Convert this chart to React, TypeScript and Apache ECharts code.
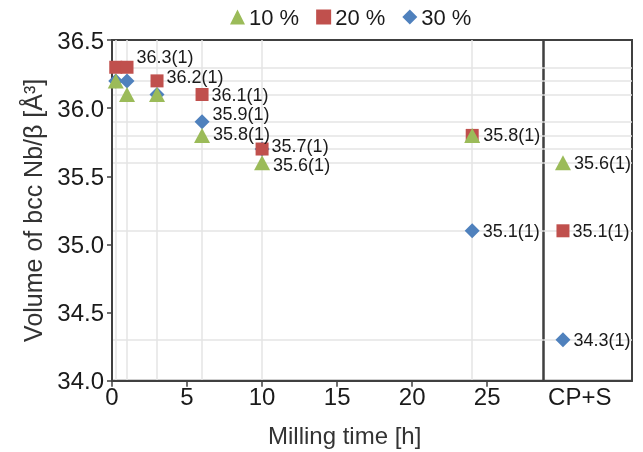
import React, { useEffect, useRef } from "react";
import * as echarts from "echarts";

const seriesNames = ["10 %", "20 %", "30 %"];
const times = [0.25, 1, 3, 6, 10, 24];
const vol10 = [36.2, 36.1, 36.1, 35.8, 35.6, 35.8];
const vol20 = [36.3, 36.3, 36.2, 36.1, 35.7, 35.8];
const vol30 = [36.2, 36.2, 36.1, 35.9, 35.7, 35.1];
const cpsCategory = "CP+S";
const cps10 = 35.6;
const cps20 = 35.1;
const cps30 = 34.3;
const labels10 = [null, null, null, "35.8(1)", "35.6(1)", "35.8(1)"];
const labels20 = [null, "36.3(1)", "36.2(1)", "36.1(1)", "35.7(1)", null];
const labels30 = [null, null, null, "35.9(1)", null, "35.1(1)"];
const cpsLabel10 = "35.6(1)";
const cpsLabel20 = "35.1(1)";
const cpsLabel30 = "34.3(1)";
const xTicks = [0, 5, 10, 15, 20, 25];
const yMin = 34.0;
const yMax = 36.5;
const yStep = 0.5;

const FONT = "'Liberation Sans', Arial, sans-serif";
const TXT = "#1a1a1a";
const AX = "#404040";
const GRIDC = "#e4e4e4";

// label vertical nudges (style only)
const labelOffsets: Record<string, number[]> = {
  "20-1": [0, -10],
  "20-2": [0, -4],
  "30-3": [0, -8],
  "10-3": [0, -1],
  "20-4": [0, -3],
  "10-4": [0, 2],
};

export default function App() {
  const ref = useRef<HTMLDivElement>(null);
  useEffect(() => {
    document.body.style.margin = "0";
    const chart = echarts.init(ref.current!, null, { renderer: "svg" });

    const mk = (key: string, vals: number[], labs: (string | null)[]) =>
      times.map((t, i) => {
        const item: any = { value: [t, vals[i]] };
        if (labs[i]) {
          item.label = {
            show: true,
            formatter: labs[i],
            position: "right",
            distance: 3,
            offset: labelOffsets[`${key}-${i}`] || [0, 0],
          };
        }
        return item;
      });

    const cpsX = 0.22;
    const mkCps = (v: number, lab: string) => [
      { value: [cpsX, v], label: { show: true, formatter: lab, position: "right", distance: 3 } },
    ];

    const hLines = Array.from(
      new Set([...vol10, ...vol20, ...vol30, cps10, cps20, cps30])
    ).map((v) => ({ yAxis: v }));
    const vLines = times.map((t) => ({ xAxis: t }));

    const markStyle = {
      silent: true,
      z: 0,
      symbol: ["none", "none"],
      label: { show: false },
      lineStyle: { color: GRIDC, width: 1.5, type: "solid", opacity: 1 },
      emphasis: { disabled: true },
      animation: false,
    };

    const labelStyle = { fontSize: 18, color: TXT, fontFamily: FONT, lineHeight: 18 };

    const styles: Record<string, any> = {
      "10 %": { symbol: "triangle", symbolSize: [16, 15], color: "#9bbb59" },
      "20 %": { symbol: "rect", symbolSize: 13, color: "#c0504d" },
      "30 %": { symbol: "diamond", symbolSize: 15, color: "#4f81bd" },
    };

    const scatter = (name: string, xi: number, data: any[]) => ({
      type: "scatter",
      name,
      xAxisIndex: xi,
      yAxisIndex: xi,
      symbol: styles[name].symbol,
      symbolSize: styles[name].symbolSize,
      itemStyle: { color: styles[name].color, opacity: 1 },
      label: labelStyle,
      data,
      z: 5,
    });

    const gridCommon = {
      top: 40,
      height: 340.7,
      show: true,
      borderColor: AX,
      borderWidth: 2,
      containLabel: false,
    };

    const yAxisCommon = {
      type: "value",
      min: yMin,
      max: yMax,
      interval: yStep,
      splitLine: { show: false },
    };

    chart.setOption({
      animation: false,
      textStyle: { fontFamily: FONT },
      legend: {
        data: seriesNames,
        left: 230,
        top: 6,
        padding: 0,
        itemWidth: 15,
        itemHeight: 15,
        itemGap: 17,
        textStyle: { fontSize: 22, color: TXT, fontFamily: FONT, padding: [0, 0, 0, -1] },
      },
      grid: [
        { ...gridCommon, left: 112, width: 431.5 },
        { ...gridCommon, left: 543.5, width: 88.5 },
      ],
      xAxis: [
        {
          type: "value",
          gridIndex: 0,
          min: 0,
          max: 28.75,
          interval: 5,
          axisLine: { lineStyle: { color: AX, width: 2 } },
          axisTick: { show: true, length: 6, lineStyle: { color: AX, width: 1.5 }, customValues: xTicks },
          axisLabel: { fontSize: 24, color: TXT, margin: 4, fontFamily: FONT, customValues: xTicks },
          splitLine: { show: false },
        },
        {
          type: "value",
          gridIndex: 1,
          min: 0,
          max: 1,
          axisLine: { lineStyle: { color: AX, width: 2 } },
          axisTick: { show: false },
          axisLabel: {
            fontSize: 24,
            color: TXT,
            margin: 4,
            fontFamily: FONT,
            customValues: [0.41],
            formatter: () => cpsCategory,
          },
          splitLine: { show: false },
        },
      ],
      yAxis: [
        {
          ...yAxisCommon,
          gridIndex: 0,
          name: "Volume of bcc Nb/β [Å³]",
          nameLocation: "middle",
          nameGap: 67,
          nameTextStyle: { fontSize: 25, color: "#333", fontFamily: FONT },
          axisLine: { show: true, lineStyle: { color: AX, width: 2 } },
          axisTick: { show: true, length: 5, lineStyle: { color: AX, width: 1.5 } },
          axisLabel: {
            fontSize: 24,
            color: TXT,
            margin: 8,
            fontFamily: FONT,
            formatter: (v: number) => v.toFixed(1),
          },
        },
        {
          ...yAxisCommon,
          gridIndex: 1,
          axisLine: { show: false },
          axisTick: { show: false },
          axisLabel: { show: false },
        },
      ],
      graphic: [
        {
          type: "text",
          left: 268,
          top: 423,
          style: { text: "Milling time [h]", fontSize: 24, fill: "#333", fontFamily: FONT },
        },
      ],
      series: [
        { type: "line", xAxisIndex: 0, yAxisIndex: 0, data: [], z: 0, markLine: { ...markStyle, data: [...hLines, ...vLines] } },
        { type: "line", xAxisIndex: 1, yAxisIndex: 1, data: [], z: 0, markLine: { ...markStyle, data: hLines } },
        scatter("30 %", 0, mk("30", vol30, labels30)),
        scatter("20 %", 0, mk("20", vol20, labels20)),
        scatter("10 %", 0, mk("10", vol10, labels10)),
        scatter("30 %", 1, mkCps(cps30, cpsLabel30)),
        scatter("20 %", 1, mkCps(cps20, cpsLabel20)),
        scatter("10 %", 1, mkCps(cps10, cpsLabel10)),
      ],
    });
    return () => chart.dispose();
  }, []);
  return <div ref={ref} style={{ position: "fixed", left: 0, top: 0, width: 643, height: 452 }} />;
}
